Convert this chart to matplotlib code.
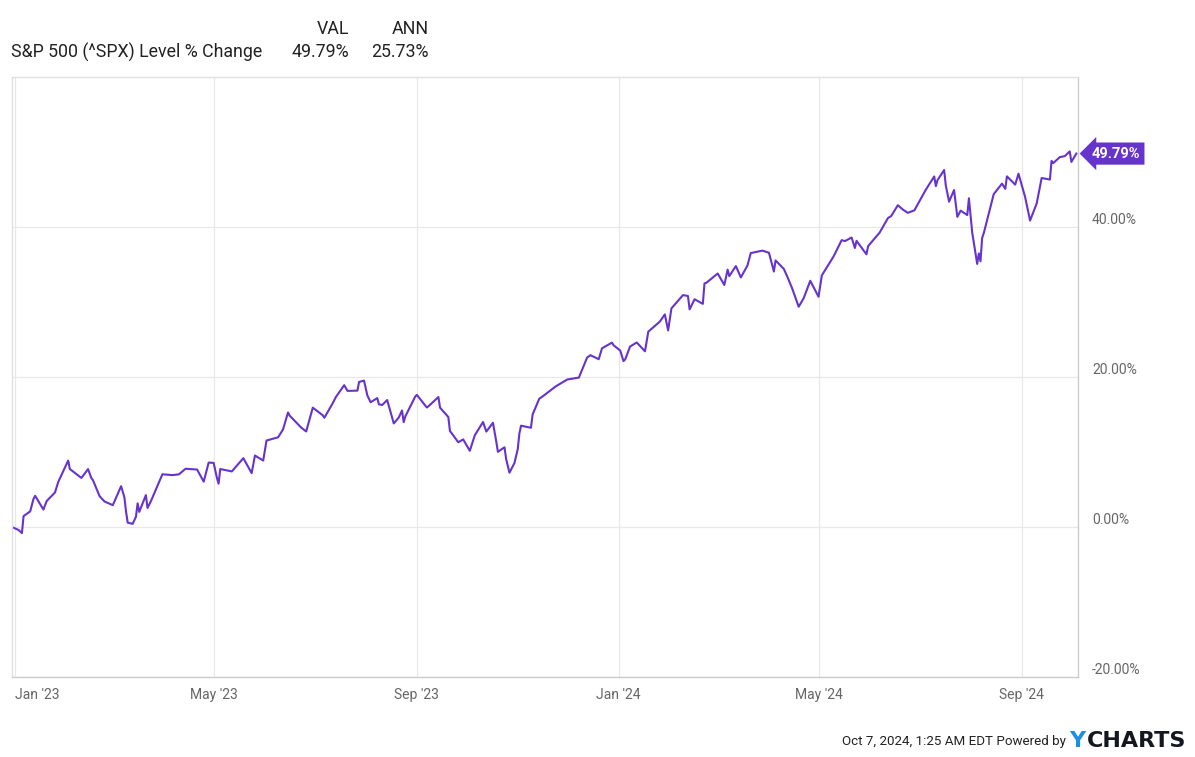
import matplotlib as mpl
mpl.use('Agg')
import matplotlib.pyplot as plt
import pandas as pd

plt.rcParams['font.family'] = ['Roboto', 'DejaVu Sans']

# S&P 500 level % change since 30 Dec 2022
dates = [
    '2022-12-30', '2023-01-03', '2023-01-05', '2023-01-06', '2023-01-10', '2023-01-12', '2023-01-13', '2023-01-18', '2023-01-20', '2023-01-25', '2023-01-27',
    '2023-02-02', '2023-02-03', '2023-02-10', '2023-02-14', '2023-02-16', '2023-02-17', '2023-02-21', '2023-02-24',
    '2023-03-01', '2023-03-06', '2023-03-08', '2023-03-09', '2023-03-10', '2023-03-13', '2023-03-15', '2023-03-16', '2023-03-17', '2023-03-21', '2023-03-22', '2023-03-24', '2023-03-31',
    '2023-04-06', '2023-04-10', '2023-04-14', '2023-04-21', '2023-04-25', '2023-04-28',
    '2023-05-01', '2023-05-03', '2023-05-04', '2023-05-05', '2023-05-12', '2023-05-19', '2023-05-24', '2023-05-26', '2023-05-31',
    '2023-06-02', '2023-06-09', '2023-06-12', '2023-06-15', '2023-06-16', '2023-06-23', '2023-06-26', '2023-06-30',
    '2023-07-06', '2023-07-07', '2023-07-12', '2023-07-14', '2023-07-19', '2023-07-21', '2023-07-27', '2023-07-28', '2023-07-31',
    '2023-08-02', '2023-08-04', '2023-08-08', '2023-08-09', '2023-08-11', '2023-08-14', '2023-08-18', '2023-08-21', '2023-08-23', '2023-08-24', '2023-08-25', '2023-08-31',
    '2023-09-01', '2023-09-07', '2023-09-08', '2023-09-14', '2023-09-15', '2023-09-20', '2023-09-21', '2023-09-22', '2023-09-26', '2023-09-29',
    '2023-10-03', '2023-10-06', '2023-10-11', '2023-10-13', '2023-10-17', '2023-10-19', '2023-10-20', '2023-10-24', '2023-10-25', '2023-10-27', '2023-10-30',
    '2023-11-01', '2023-11-02', '2023-11-03', '2023-11-09', '2023-11-10', '2023-11-14', '2023-11-17', '2023-11-24',
    '2023-12-01', '2023-12-08', '2023-12-13', '2023-12-15', '2023-12-20', '2023-12-22', '2023-12-28', '2023-12-29',
    '2024-01-02', '2024-01-04', '2024-01-05', '2024-01-08', '2024-01-12', '2024-01-17', '2024-01-19', '2024-01-26', '2024-01-29', '2024-01-31',
    '2024-02-02', '2024-02-09', '2024-02-12', '2024-02-13', '2024-02-16', '2024-02-21', '2024-02-22', '2024-02-23',
    '2024-03-01', '2024-03-05', '2024-03-07', '2024-03-08', '2024-03-12', '2024-03-15', '2024-03-19', '2024-03-21', '2024-03-28',
    '2024-04-01', '2024-04-04', '2024-04-05', '2024-04-10', '2024-04-12', '2024-04-15', '2024-04-19', '2024-04-22', '2024-04-26', '2024-04-30',
    '2024-05-01', '2024-05-03', '2024-05-10', '2024-05-15', '2024-05-17', '2024-05-21', '2024-05-23', '2024-05-24', '2024-05-30', '2024-05-31',
    '2024-06-07', '2024-06-12', '2024-06-14', '2024-06-18', '2024-06-21', '2024-06-24', '2024-06-28',
    '2024-07-05', '2024-07-10', '2024-07-11', '2024-07-12', '2024-07-16', '2024-07-17', '2024-07-19', '2024-07-22', '2024-07-24', '2024-07-26', '2024-07-30', '2024-07-31',
    '2024-08-02', '2024-08-05', '2024-08-06', '2024-08-07', '2024-08-08', '2024-08-09', '2024-08-15', '2024-08-16', '2024-08-20', '2024-08-22', '2024-08-23', '2024-08-28', '2024-08-30',
    '2024-09-03', '2024-09-06', '2024-09-10', '2024-09-13', '2024-09-18', '2024-09-19', '2024-09-20', '2024-09-24', '2024-09-27', '2024-09-30',
    '2024-10-01', '2024-10-04',
]
pct = [
    0.00, -0.40, -0.82, 1.45, 2.08, 3.74, 4.16, 2.33, 3.47, 4.60, 6.02,
    8.86, 7.73, 6.54, 7.72, 6.53, 6.24, 4.11, 3.40,
    2.91, 5.44, 3.97, 2.05, 0.58, 0.42, 1.37, 3.15, 2.01, 4.25, 2.54, 3.42, 7.03,
    6.92, 7.02, 7.77, 7.66, 6.05, 8.59,
    8.55, 6.54, 5.77, 7.73, 7.41, 9.18, 7.18, 9.53, 8.86,
    11.53, 11.96, 13.01, 15.27, 14.85, 13.25, 12.74, 15.91,
    14.90, 14.57, 16.48, 17.34, 18.91, 18.15, 18.18, 19.34, 19.52,
    17.55, 16.63, 17.19, 16.36, 16.27, 16.93, 13.81, 14.59, 15.54, 13.98, 14.75, 17.40,
    17.61, 15.93, 16.10, 17.33, 15.91, 14.66, 12.78, 12.52, 11.30, 11.68,
    10.16, 12.22, 14.00, 12.72, 13.90, 11.42, 10.02, 10.63, 9.04, 7.24, 8.52,
    10.38, 12.46, 13.51, 13.23, 15.00, 17.09, 17.57, 18.75,
    19.67, 19.92, 22.60, 22.91, 22.37, 23.83, 24.58, 24.23,
    23.53, 22.12, 22.34, 24.07, 24.60, 23.43, 26.05, 27.39, 28.35, 26.21,
    29.15, 30.92, 30.80, 29.01, 30.37, 29.75, 32.49, 32.54,
    33.80, 32.27, 34.32, 33.45, 34.79, 33.27, 34.87, 36.52, 36.85,
    36.57, 34.06, 35.55, 34.41, 33.44, 31.84, 29.37, 30.50, 32.83, 31.15,
    30.70, 33.55, 36.03, 38.25, 38.12, 38.60, 37.20, 38.16, 36.36, 37.45,
    39.26, 41.19, 41.47, 42.91, 42.33, 41.89, 42.22,
    45.00, 46.74, 45.45, 46.25, 47.60, 45.55, 43.38, 44.93, 41.35, 42.18, 41.59, 43.83,
    39.25, 35.08, 36.48, 35.42, 38.54, 39.19, 44.37, 44.66, 45.78, 45.09, 46.75, 45.65, 47.11,
    44.00, 40.86, 43.13, 46.53, 46.33, 48.81, 48.52, 49.32, 49.45, 50.08,
    48.68, 49.79,
]
assert len(dates) == len(pct)

tick_dates = ['2023-01-01', '2023-05-01', '2023-09-01', '2024-01-01', '2024-05-01', '2024-09-01']
tick_labels = ["Jan '23", "May '23", "Sep '23", "Jan '24", "May '24", "Sep '24"]
y_ticks = [-20, 0, 20, 40]
y_labels = ['-20.00%', '0.00%', '20.00%', '40.00%']

series_name = 'S&P 500 (^SPX) Level % Change'
val = '49.79%'
ann = '25.73%'

purple = '#6633cc'
W, H = 1195, 757
fig = plt.figure(figsize=(W / 100, H / 100), dpi=100)
ax = fig.add_axes([12 / W, 1 - 677 / H, (1078 - 12) / W, (677 - 77) / H])

x = pd.to_datetime(dates)
ax.plot(x, pct, color=purple, lw=1.5, solid_joinstyle='round')

ax.set_xlim(pd.Timestamp('2022-12-30'), pd.Timestamp('2024-10-05'))
ax.set_ylim(-20, 60)

ax.set_xticks(pd.to_datetime(tick_dates))
ax.set_xticklabels(tick_labels)
ax.set_yticks(y_ticks)
ax.set_yticklabels(y_labels)
ax.yaxis.tick_right()
ax.tick_params(axis='y', length=0, pad=10, labelsize=10, labelcolor='#666666')
ax.tick_params(axis='x', length=0, pad=8, labelsize=10, labelcolor='#666666')
for lab in ax.get_yticklabels():
    lab.set_verticalalignment('bottom')
ax.get_xticklabels()[0].set_horizontalalignment('left')

ax.grid(True, color='#e8e8e8', lw=0.9)
ax.set_axisbelow(True)
for side in ['left', 'top']:
    ax.spines[side].set_color('#e0e0e0')
for side in ['right', 'bottom']:
    ax.spines[side].set_color('#cccccc')
for s in ax.spines.values():
    s.set_linewidth(1)

# last value tag
ax.annotate(val, xy=(1.0, pct[-1]), xycoords=('axes fraction', 'data'),
            xytext=(10, 0), textcoords='offset points', ha='left', va='center',
            fontsize=10.5, fontweight='bold', color='white', annotation_clip=False,
            bbox=dict(boxstyle='larrow,pad=0.28', fc=purple, ec='none'))

# header
hdr = dict(fontsize=12.75, color='#222222', va='center')
fig.text(349 / W, 1 - 29 / H, 'VAL', ha='right', **hdr)
fig.text(429 / W, 1 - 29 / H, 'ANN', ha='right', **hdr)
fig.text(11 / W, 1 - 52 / H, series_name, ha='left', **hdr)
fig.text(349 / W, 1 - 52 / H, val, ha='right', **hdr)
fig.text(429 / W, 1 - 52 / H, ann, ha='right', **hdr)

# footer
fig.text(1066 / W, 1 - 741 / H, 'Oct 7, 2024, 1:25 AM EDT Powered by', ha='right', va='center',
         fontsize=9.6, color='#222222')
fig.text(1069 / W, 1 - 741 / H, 'Y', ha='left', va='center', fontsize=16, fontweight='bold',
         color='#1d8fe1', family='DejaVu Sans')
fig.text(1087 / W, 1 - 741 / H, 'CHARTS', ha='left', va='center', fontsize=16, fontweight='bold',
         color='#14171f', family='DejaVu Sans')

fig.savefig('out.png', dpi=100)
